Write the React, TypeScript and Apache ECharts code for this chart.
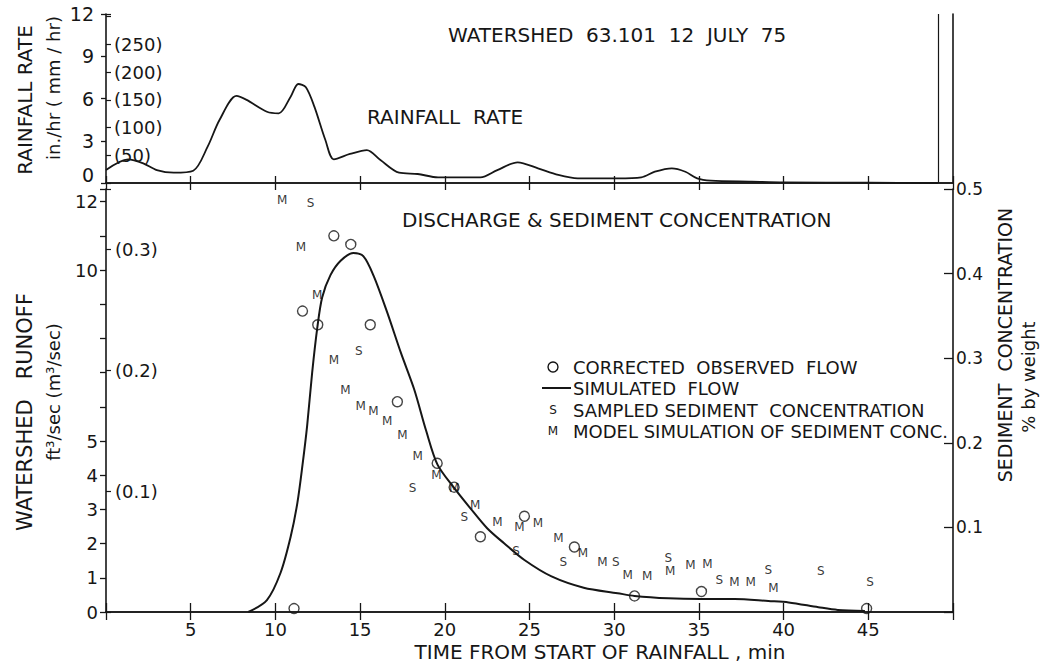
import React, { useEffect, useRef } from "react";
import * as echarts from "echarts";

const FONT = '"DejaVu Sans", "Liberation Sans", sans-serif';
const INK = "#161616";

// Rainfall rate, in./hr vs minutes
const rainTime = [0, 1.3, 2.2, 3.0, 4.0, 5.15, 6.0, 6.7, 7.7, 8.3, 9.5, 10.2, 10.9, 11.35, 11.8, 12.3, 12.95, 13.45, 14.4, 15.4, 16.2, 17.3, 18.4, 19.6, 22.1, 23.1, 24.3, 25.5, 26.7, 27.85, 30.2, 31.6, 32.4, 33.4, 34.2, 34.9, 35.7, 38.1, 40, 45, 49.1];
const rainRate = [0.92, 1.68, 1.4, 0.92, 0.73, 0.87, 2.58, 4.47, 6.18, 5.9, 5.06, 4.95, 6.13, 7.03, 6.8, 5.42, 3.05, 1.68, 2.06, 2.34, 1.63, 0.73, 0.64, 0.4, 0.4, 0.92, 1.47, 1.04, 0.57, 0.33, 0.33, 0.4, 0.8, 1.04, 0.8, 0.33, 0.17, 0.1, 0.05, 0.02, 0.0];

// Simulated flow, ft3/sec
const flowTime = [8.4, 9.5, 10.3, 10.9, 11.3, 11.6, 11.87, 12.17, 12.47, 12.76, 13.25, 13.85, 14.6, 15.2, 15.8, 16.6, 17.4, 18.2, 18.9, 19.57, 20.55, 21.5, 22.5, 23.5, 24.7, 26.3, 28.2, 30.2, 31.2, 33.2, 35.1, 37.1, 39.1, 40.3, 42.05, 43.2, 44.8];
const flowSim = [0, 0.35, 1.14, 2.2, 3.2, 4.3, 5.43, 7.0, 8.3, 9.2, 9.85, 10.27, 10.5, 10.4, 9.83, 8.76, 7.59, 6.5, 5.3, 4.31, 3.63, 3.04, 2.45, 2.01, 1.52, 1.04, 0.71, 0.55, 0.47, 0.4, 0.38, 0.38, 0.32, 0.28, 0.14, 0.06, 0.03];

// Corrected observed flow, ft3/sec
const obsTime = [11.1, 11.6, 12.5, 13.45, 14.45, 15.6, 17.2, 19.55, 20.55, 22.1, 24.7, 27.65, 31.2, 35.15, 44.9];
const obsFlow = [0.1, 8.8, 8.4, 11.0, 10.75, 8.4, 6.15, 4.35, 3.65, 2.2, 2.8, 1.9, 0.47, 0.6, 0.1];

// Sampled sediment concentration, % by weight
const sedTime = [12.07, 14.93, 18.09, 21.15, 24.2, 27.0, 30.1, 33.2, 36.2, 39.1, 42.2, 45.1];
const sedConc = [0.483, 0.308, 0.146, 0.112, 0.072, 0.059, 0.059, 0.064, 0.038, 0.05, 0.048, 0.036];

// Model simulation of sediment concentration, % by weight
const modTime = [10.4, 11.5, 12.47, 13.45, 14.14, 15.03, 15.78, 16.6, 17.5, 18.4, 19.5, 20.55, 21.8, 23.1, 24.4, 25.5, 26.7, 28.15, 29.3, 30.8, 31.95, 33.3, 34.5, 35.5, 37.1, 38.05, 39.4];
const modConc = [0.487, 0.432, 0.375, 0.298, 0.262, 0.243, 0.238, 0.226, 0.209, 0.184, 0.162, 0.146, 0.126, 0.106, 0.101, 0.105, 0.088, 0.07, 0.059, 0.044, 0.042, 0.049, 0.056, 0.057, 0.036, 0.035, 0.028];

const xTickLabels = ["5", "10", "15", "20", "25", "30", "35", "40", "45"];
const flowTickLabels = ["0", "1", "2", "3", "4", "5", "10", "12"];
const rainTickLabels = ["0", "3", "6", "9", "12"];
const mmTickLabels = ["50", "100", "150", "200", "250"];
const m3TickLabels = ["0.1", "0.2", "0.3"];
const concTickLabels = ["0.1", "0.2", "0.3", "0.4", "0.5"];

const FT_MAX = 12.37;
const M3_PER_FT3 = 1 / 35.3147;
const MM_PER_IN = 25.4;

const zip = (a: number[], b: number[]) => a.map((v, i) => [v, b[i]]);

const txt = (text: string, x: number, y: number, size: number, align = "left", rot = 0) => ({
  type: "text",
  x,
  y,
  rotation: rot,
  silent: true,
  style: {
    text,
    fontSize: size,
    fontFamily: FONT,
    fill: INK,
    align,
    textAlign: align,
    verticalAlign: "middle",
    textVerticalAlign: "middle",
  },
});

export default function App() {
  const ref = useRef<HTMLDivElement>(null);

  useEffect(() => {
    if (!ref.current) return;
    const chart = echarts.init(ref.current, null, { renderer: "svg" });
    const axisLine = { show: true, lineStyle: { color: INK, width: 1.6 } };
    const label = (size: number) => ({ color: INK, fontFamily: FONT, fontSize: size });
    const letter = (ch: string) => ({
      show: true,
      position: "inside",
      formatter: ch,
      color: "#000",
      textBorderWidth: 0,
      textBorderColor: "transparent",
      fontFamily: FONT,
      fontSize: 12,
    });

    const option: any = {
      animation: false,
      backgroundColor: "#ffffff",
      grid: [
        { left: 106, top: 14, width: 847, height: 169 },
        { left: 106, top: 189, width: 847, height: 423 },
      ],
      xAxis: [
        { gridIndex: 0, type: "value", min: 0, max: 50, interval: 5, position: "bottom", axisLine, axisTick: { show: true, inside: true, length: 7, lineStyle: { color: INK, width: 1.3 } }, axisLabel: { show: false }, splitLine: { show: false } },
        { gridIndex: 0, type: "value", min: 0, max: 50, interval: 5, position: "top", axisLine, axisTick: { show: true, inside: true, length: 7, lineStyle: { color: INK, width: 1.3 } }, axisLabel: { show: false }, splitLine: { show: false } },
        {
          gridIndex: 1, type: "value", min: 0, max: 50, interval: 5, position: "bottom", axisLine,
          axisTick: { show: true, inside: true, length: 9, lineStyle: { color: INK, width: 1.3 } },
          axisLabel: { ...label(18), margin: 8, formatter: (v: number) => (xTickLabels.includes(String(v)) ? String(v) : "") },
          splitLine: { show: false },
        },
        { gridIndex: 1, type: "value", min: 0, max: 50, interval: 5, position: "top", axisLine, axisTick: { show: true, inside: true, length: 8, lineStyle: { color: INK, width: 1.3 } }, axisLabel: { show: false }, splitLine: { show: false } },
      ],
      yAxis: [
        {
          gridIndex: 0, type: "value", min: 0, max: 12, interval: 3, position: "left", axisLine,
          axisTick: { show: true, inside: false, length: 5, lineStyle: { color: INK, width: 1.3 } },
          axisLabel: { ...label(19), margin: 12, verticalAlignMinLabel: "bottom", lineHeight: 17, formatter: (v: number) => (rainTickLabels.includes(String(v)) ? String(v) : "") },
          splitLine: { show: false },
        },
        {
          gridIndex: 0, type: "value", min: 0, max: 12 * MM_PER_IN, interval: 50, position: "left", axisLine: { show: false },
          axisTick: { show: true, inside: true, length: 5, lineStyle: { color: INK, width: 1.2 } },
          axisLabel: { ...label(18), inside: true, margin: 8, formatter: (v: number) => (mmTickLabels.includes(String(v)) ? `(${v})` : "") },
          splitLine: { show: false },
        },
        { gridIndex: 0, type: "value", min: 0, max: 12, position: "right", axisLine, axisTick: { show: false }, axisLabel: { show: false }, splitLine: { show: false } },
        {
          gridIndex: 1, type: "value", min: 0, max: FT_MAX, interval: 1, position: "left", axisLine,
          axisTick: { show: true, inside: false, length: 6, lineStyle: { color: INK, width: 1.3 } },
          axisLabel: { ...label(18), margin: 8, lineHeight: 17, formatter: (v: number) => (flowTickLabels.includes(String(v)) ? String(v) : "") },
          splitLine: { show: false },
        },
        {
          gridIndex: 1, type: "value", min: 0, max: FT_MAX * M3_PER_FT3, interval: 0.1, position: "left", axisLine: { show: false },
          axisTick: { show: true, inside: true, length: 5, lineStyle: { color: INK, width: 1.2 } },
          axisLabel: { ...label(18), inside: true, margin: 9, formatter: (v: number) => { const s = v.toFixed(1); return m3TickLabels.includes(s) && Math.abs(v - Number(s)) < 1e-6 ? `(${s})` : ""; } },
          splitLine: { show: false },
        },
        {
          gridIndex: 1, type: "value", min: 0, max: 0.5, interval: 0.1, position: "right", axisLine,
          axisTick: { show: true, inside: true, length: 9, lineStyle: { color: INK, width: 1.3 } },
          axisLabel: { ...label(17), margin: 3, formatter: (v: number) => { const s = v.toFixed(1); return concTickLabels.includes(s) ? s : ""; } },
          splitLine: { show: false },
        },
      ],
      series: [
        {
          name: "Rainfall rate", type: "line", xAxisIndex: 0, yAxisIndex: 0, data: zip(rainTime, rainRate),
          smooth: 0.3, symbol: "none", lineStyle: { color: INK, width: 1.8 },
          markLine: { silent: true, symbol: "none", label: { show: false }, lineStyle: { color: INK, width: 1.2, type: "solid" }, data: [{ xAxis: 49.1 }] },
        },
        {
          name: "Simulated flow", type: "line", xAxisIndex: 2, yAxisIndex: 3, data: zip(flowTime, flowSim),
          smooth: 0.3, symbol: "none", lineStyle: { color: INK, width: 2 },
        },
        {
          name: "Corrected observed flow", type: "scatter", xAxisIndex: 2, yAxisIndex: 3, data: zip(obsTime, obsFlow),
          symbol: "circle", symbolSize: 10, itemStyle: { color: "rgba(255,255,255,0)", borderColor: INK, borderWidth: 1.4 },
        },
        {
          name: "Sampled sediment concentration", type: "scatter", xAxisIndex: 2, yAxisIndex: 5, data: zip(sedTime, sedConc),
          symbol: "circle", symbolSize: 1, itemStyle: { color: "rgba(0,0,0,0)" }, label: letter("S"),
        },
        {
          name: "Model simulation of sediment conc.", type: "scatter", xAxisIndex: 2, yAxisIndex: 5, data: zip(modTime, modConc),
          symbol: "circle", symbolSize: 1, itemStyle: { color: "rgba(0,0,0,0)" }, label: letter("M"),
        },
      ],
      graphic: [
        txt("WATERSHED  63.101  12  JULY  75", 448, 35, 20),
        txt("RAINFALL  RATE", 367, 117, 20),
        txt("DISCHARGE & SEDIMENT CONCENTRATION", 402, 220, 20),
        txt("TIME FROM START OF RAINFALL , min", 600, 652, 20, "center"),
        txt("RAINFALL RATE", 25, 100, 20, "center", Math.PI / 2),
        txt("in./hr ( mm / hr)", 53, 88, 18, "center", Math.PI / 2),
        txt("WATERSHED   RUNOFF", 25, 412, 21, "center", Math.PI / 2),
        txt("ft³/sec (m³/sec)", 53, 392, 18, "center", Math.PI / 2),
        txt("SEDIMENT  CONCENTRATION", 1005, 345, 19, "center", Math.PI / 2),
        txt("% by weight", 1028, 377, 18, "center", Math.PI / 2),
        // legend
        { type: "circle", silent: true, shape: { cx: 553, cy: 367, r: 5 }, style: { fill: "none", stroke: INK, lineWidth: 1.4 } },
        txt("CORRECTED  OBSERVED  FLOW", 573, 367, 18),
        { type: "line", silent: true, shape: { x1: 542, y1: 388, x2: 571, y2: 388 }, style: { stroke: INK, lineWidth: 2 } },
        txt("SIMULATED  FLOW", 573, 388, 18),
        txt("S", 553, 410, 12, "center"),
        txt("SAMPLED SEDIMENT  CONCENTRATION", 573, 410, 18),
        txt("M", 553, 431, 12, "center"),
        txt("MODEL SIMULATION OF SEDIMENT CONC.", 573, 431, 18),
      ],
    };
    chart.setOption(option);
    return () => chart.dispose();
  }, []);

  return (
    <div
      ref={ref}
      style={{ position: "fixed", left: 0, top: 0, width: 1045, height: 669, background: "#fff" }}
    />
  );
}
